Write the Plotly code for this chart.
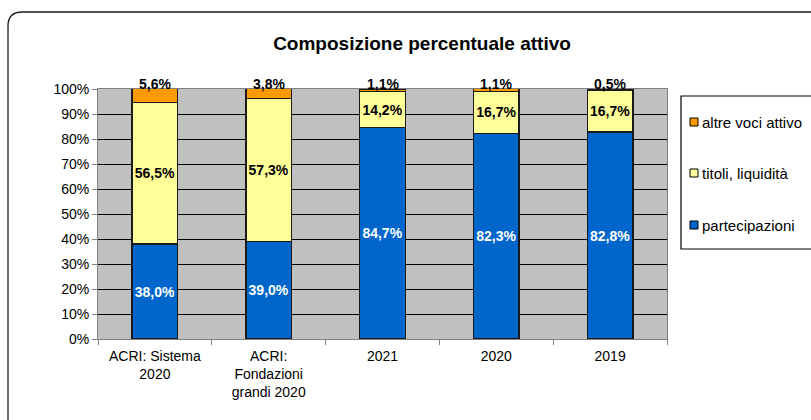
import plotly.graph_objects as go

categories = ["ACRI: Sistema<br>2020", "ACRI:<br>Fondazioni<br>grandi 2020", "2021", "2020", "2019"]
partecipazioni = [38.0, 39.0, 84.7, 82.3, 82.8]
titoli_liquidita = [56.5, 57.3, 14.2, 16.7, 16.7]
altre_voci = [5.6, 3.8, 1.1, 1.1, 0.5]

FONT = "Liberation Sans, Arial, sans-serif"
W, H = 811, 420
L, R, T, B = 98, 144, 89, 81
PW, PH = W - L - R, H - T - B


def fmt(v):
    return f"{v:.1f}%".replace(".", ",")


def px(x):
    return (x - L) / PW


def py(y):
    return (H - B - y) / PH


series = [
    ("partecipazioni", partecipazioni, "#0066CC", "white"),
    ("titoli, liquidità", titoli_liquidita, "#FFFF99", "black"),
    ("altre voci attivo", altre_voci, "#FF9900", "black"),
]

fig = go.Figure()
for i, (name, vals, color, tcolor) in enumerate(series):
    top = i == len(series) - 1
    fig.add_trace(go.Bar(
        x=categories, y=vals, name=name, showlegend=False,
        marker=dict(color=color, line=dict(color="#1a1a1a", width=1.3)),
        text=None if top else [fmt(v) for v in vals],
        textposition="inside", insidetextanchor="middle", textangle=0,
        constraintext="none", cliponaxis=False,
        textfont=dict(family=FONT, size=14, color=tcolor, weight="bold"),
    ))

# value labels for the top segment sit just above each stack
totals = [p + t + a for p, t, a in zip(partecipazioni, titoli_liquidita, altre_voci)]
for idx, (tot, v) in enumerate(zip(totals, altre_voci)):
    fig.add_annotation(x=idx, xref="x", y=min(tot, 100), yref="y", text=f"<b>{fmt(v)}</b>",
                       showarrow=False, yanchor="bottom", yshift=-5,
                       font=dict(family=FONT, size=14, color="black"))

fig.update_layout(
    width=W, height=H,
    margin=dict(l=L, r=R, t=T, b=B),
    barmode="stack", bargap=0.6,
    paper_bgcolor="white", plot_bgcolor="#C0C0C0",
    font=dict(family=FONT, size=14, color="black"),
    title=dict(text="<b>Composizione percentuale attivo</b>", x=px(422), xref="paper",
               xanchor="center", y=1 - 43 / H, yanchor="middle",
               font=dict(family=FONT, size=19)),
    uniformtext=dict(mode=False),
    showlegend=False,
)
fig.update_xaxes(type="category", tickson="boundaries", ticks="outside", ticklen=5,
                 tickcolor="#808080", showline=True, linecolor="#808080", mirror=True,
                 tickfont=dict(size=14), ticklabelstandoff=4)
fig.update_yaxes(range=[0, 100], dtick=10, ticksuffix="%", ticks="outside", ticklen=5,
                 tickcolor="#808080", showgrid=True, gridcolor="black", gridwidth=1,
                 showline=True, linecolor="#808080", mirror=True, zeroline=False,
                 tickfont=dict(size=14))

# legend box with swatches, listed top to bottom in reverse stacking order
fig.add_shape(type="rect", xref="paper", yref="paper",
              x0=px(681), x1=px(W + 20), y0=py(249), y1=py(96),
              line=dict(color="black", width=1.2), fillcolor="white")
legend_rows = [122, 173, 225]
for (name, _, color, _), row in zip(reversed(series), legend_rows):
    fig.add_shape(type="rect", xref="paper", yref="paper",
                  x0=px(690), x1=px(698), y0=py(row + 4), y1=py(row - 4),
                  line=dict(color="black", width=1), fillcolor=color)
    fig.add_annotation(x=px(700), y=py(row), xref="paper", yref="paper", text=name,
                       showarrow=False, xanchor="left", yanchor="middle",
                       font=dict(family=FONT, size=15, color="black"))

# outer chart frame with a rounded top-left corner
fx0, fy0, rad = px(8), py(12), 0.025
fig.add_shape(type="path", xref="paper", yref="paper",
              path=(f"M {fx0},{py(H + 20)} L {fx0},{fy0 - rad * PW / PH} "
                    f"Q {fx0},{fy0} {fx0 + rad},{fy0} L {px(W + 20)},{fy0}"),
              line=dict(color="#1a1a1a", width=1.3), fillcolor="rgba(0,0,0,0)", layer="below")

fig.write_html("out.html")
